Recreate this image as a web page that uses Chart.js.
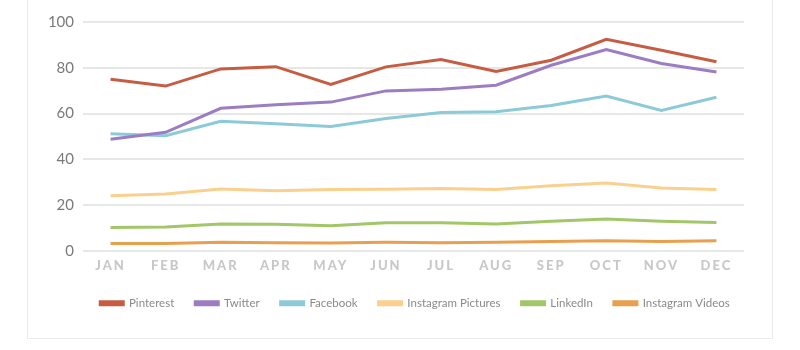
<!DOCTYPE html>
<html><head><meta charset="utf-8">
<script src="https://cdn.jsdelivr.net/npm/chart.js@4.4.1/dist/chart.umd.min.js"></script>
<style>
html,body{margin:0;padding:0;background:#fff;width:800px;height:350px;overflow:hidden;}
#card{position:absolute;left:27px;top:-10px;width:746px;height:349px;border:1px solid #e8eaea;box-sizing:border-box;}
#wrap{position:absolute;left:40px;top:0;width:750px;height:350px;}
</style></head>
<body>
<div id="card"></div>
<div id="wrap"><canvas id="c"></canvas></div>
<script>
const months = ['JAN','FEB','MAR','APR','MAY','JUN','JUL','AUG','SEP','OCT','NOV','DEC'];
const yTicks = [0,20,40,60,80,100];
const pinterest = [75,72,79.5,80.5,72.7,80.4,83.6,78.4,83.3,92.4,87.7,82.6];
const twitter = [48.8,51.8,62.3,63.9,65,69.9,70.6,72.4,81.1,88,81.9,78.2];
const facebook = [51.2,50.3,56.6,55.6,54.4,57.8,60.5,60.8,63.5,67.7,61.4,67.1];
const instaPictures = [24.1,24.9,27.0,26.3,26.8,26.9,27.3,26.8,28.5,29.7,27.5,26.8];
const linkedin = [10.2,10.4,11.7,11.6,11.0,12.3,12.3,11.7,13.0,13.9,12.9,12.4];
const instaVideos = [3.2,3.2,3.8,3.6,3.5,3.8,3.6,3.8,4.1,4.4,4.1,4.4];

class SpacedCategory extends Chart.CategoryScale {
  drawLabels(area){ const ctx=this.ctx; ctx.save(); try{ctx.letterSpacing='2px';}catch(e){} super.drawLabels(area); ctx.restore(); }
}
SpacedCategory.id = 'spacedCategory';
SpacedCategory.defaults = Chart.CategoryScale.defaults;
Chart.register(SpacedCategory);

const legendShift = {
  id:'legendShift',
  afterLayout(chart){
    const l = chart.legend; if(!l) return;
    l.left += 23; l.right += 23; l.top -= 4; l.bottom -= 4;
  }
};

function ds(label,data,color){
  return {label,data,borderColor:color,backgroundColor:color,borderWidth:3,pointRadius:0,pointHoverRadius:0,tension:0,fill:false};
}
new Chart(document.getElementById('c'),{
  type:'line',
  data:{labels:months,datasets:[
    ds('Pinterest',pinterest,'#c65d43'),
    ds('Twitter',twitter,'#9c7dc2'),
    ds('Facebook',facebook,'#8ccad8'),
    ds('Instagram Pictures',instaPictures,'#fbd08e'),
    ds('LinkedIn',linkedin,'#a3c768'),
    ds('Instagram Videos',instaVideos,'#e9a04e')
  ]},
  plugins:[legendShift],
  options:{
    responsive:true,maintainAspectRatio:false,animation:false,
    layout:{padding:{top:22,right:46,bottom:27,left:0}},
    plugins:{
      tooltip:{enabled:false},
      legend:{position:'bottom',labels:{boxWidth:23,boxHeight:3,padding:21,color:'#8a8a8a',font:{family:'Lato',size:11.5}}}
    },
    scales:{
      x:{type:'spacedCategory',offset:true,grid:{display:false,drawTicks:false},border:{display:false},
         ticks:{color:'#c8c8c8',padding:7,font:{family:'Lato',size:13,weight:'900'}}},
      y:{min:0,max:100,afterFit:s=>{s.width=43;},
         afterBuildTicks:s=>{s.ticks=yTicks.map(v=>({value:v}));},
         grid:{color:'#e6e8e8',lineWidth:2,drawTicks:false},border:{display:false},
         ticks:{color:'#7a7a7a',padding:9,font:{family:'Lato',size:15}}}
    }
  }
});
</script>
</body></html>
